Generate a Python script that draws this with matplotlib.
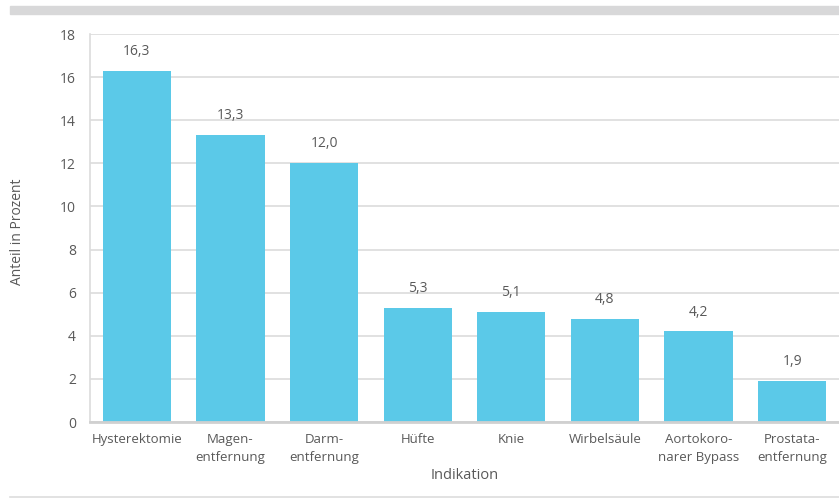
import matplotlib.pyplot as plt
from matplotlib.patches import Rectangle
from matplotlib.lines import Line2D

# Anteil je Indikation
categories = ['Hysterektomie', 'Magen-\nentfernung', 'Darm-\nentfernung', 'Hüfte', 'Knie',
              'Wirbelsäule', 'Aortokoro-\nnarer Bypass', 'Prostata-\nentfernung']
values = [16.3, 13.3, 12.0, 5.3, 5.1, 4.8, 4.2, 1.9]
y_ticks = [0, 2, 4, 6, 8, 10, 12, 14, 16, 18]

bar_color = '#5bc9e8'
text_color = '#595959'
grid_color = '#dcdcdc'

plt.rcParams['font.family'] = ['Open Sans', 'DejaVu Sans']

W, H = 839, 499
fig = plt.figure(figsize=(W / 100, H / 100), dpi=100)
ax = fig.add_axes([90 / W, (H - 422) / H, (W - 90) / W, (422 - 34) / H])

x = list(range(len(values)))
ax.bar(x, values, width=0.73, color=bar_color, zorder=3)
for xi, v in zip(x, values):
    ax.text(xi, v + 0.55, f'{v:.1f}'.replace('.', ','), ha='center', va='bottom',
            fontsize=10, color=text_color)

ax.set_xlim(-0.5, len(values) - 0.5)
ax.set_ylim(0, 18)
ax.set_yticks(y_ticks)
ax.set_xticks(x)
ax.set_xticklabels(categories, fontsize=9.5, color=text_color, linespacing=1.5)
ax.tick_params(axis='y', labelsize=10, labelcolor=text_color, length=0, pad=10)
ax.tick_params(axis='x', length=0, pad=8)
ax.grid(axis='y', color=grid_color, linewidth=1.2, zorder=0)

for side in ['top', 'right']:
    ax.spines[side].set_visible(False)
ax.spines['left'].set_color(grid_color)
ax.spines['left'].set_linewidth(1.2)
ax.spines['bottom'].set_color('#d0d0d0')
ax.spines['bottom'].set_linewidth(2)
ax.spines['bottom'].set_zorder(4)

ax.set_xlabel('Indikation', fontsize=10.5, color=text_color, labelpad=3)
fig.text(18 / W, 1 - 232 / H, 'Anteil in Prozent', rotation=90, ha='center', va='center',
         fontsize=10, color=text_color)

# Rahmen oben und unten
fig.patches.append(Rectangle((10 / W, 1 - 14 / H), (W - 10) / W, 8 / H,
                             transform=fig.transFigure, color='#d8d8d9', zorder=0))
fig.lines.append(Line2D([10 / W, 1], [1 - 497 / H] * 2, transform=fig.transFigure,
                        color='#dddddd', linewidth=1.2))

fig.savefig('out.png', dpi=100)
